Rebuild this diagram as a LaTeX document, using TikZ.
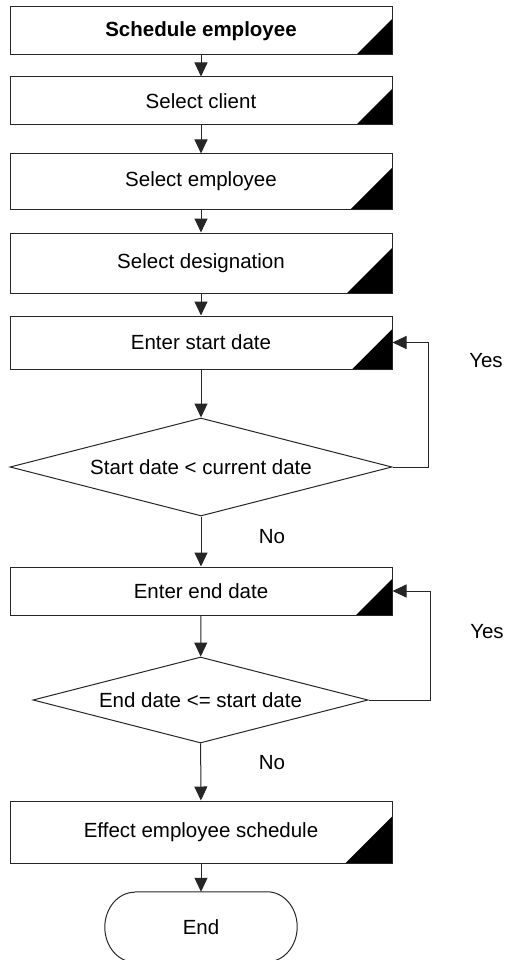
\documentclass[tikz,border=0pt]{standalone}
\usepackage{fontspec}
\setmainfont{Liberation Sans}
\usetikzlibrary{arrows.meta,shapes.geometric,calc}
\begin{document}
\begin{tikzpicture}[x=1pt,y=-1pt,
  every node/.style={font=\fontsize{20.5}{24}\selectfont, text=black},
  ln/.style={draw=black!85, line width=1pt},
  procbox/.style={ln, rectangle, minimum width=382pt, inner sep=0pt, fill=white,
    path picture={\fill[black] let \p1=(path picture bounding box.south east),
      \p2=(path picture bounding box.north east), \n1={0.75*(\y2-\y1)} in
      (\p1) -- ++(0pt,\n1) -- ++(-\n1,-\n1) -- cycle;}},
  decision/.style={ln, diamond, aspect=3.9, inner sep=0pt},
  arr/.style={ln, -{Triangle[length=14pt,width=13pt]}},
  lbl/.style={inner sep=0pt}
]
\useasboundingbox (0,0) rectangle (508,960);

\node[procbox, minimum height=48pt] (b1) at (201,31) {\bfseries Schedule employee};
\node[procbox, minimum height=48pt] (b2) at (201,101) {Select client};
\node[procbox, minimum height=55pt] (b3) at (201,181.5) {Select employee};
\node[procbox, minimum height=60pt] (b4) at (201,263) {Select designation};
\node[procbox, minimum height=53pt] (b5) at (201,342.5) {Enter start date};
\node[decision, minimum width=382pt, minimum height=98pt] (d1) at (201,467) {Start date < current date};
\node[procbox, minimum height=48pt] (b6) at (201,591) {Enter end date};
\node[decision, minimum width=335pt, minimum height=86pt] (d2) at (200.5,700) {End date <= start date};
\node[procbox, minimum height=62pt] (b7) at (201,832) {Effect employee schedule};
\node[minimum width=192pt, minimum height=70pt, inner sep=0pt] (end) at (201,927) {End};
\draw[ln] ([xshift=30pt]end.north west) -- ([xshift=-30pt]end.north east)
  arc[start angle=90, end angle=-90, x radius=30pt, y radius=35pt]
  -- ([xshift=30pt]end.south west)
  arc[start angle=270, end angle=90, x radius=30pt, y radius=35pt];

\coordinate (c1) at (428,467);
\coordinate (c2) at (428,342.5);
\coordinate (c3) at (430,700);
\coordinate (c4) at (430,591);

\draw[arr] (b1) -- (b2);
\draw[arr] (b2) -- (b3);
\draw[arr] (b3) -- (b4);
\draw[arr] (b4) -- (b5);
\draw[arr] (b5) -- (d1);
\draw[arr] (d1) -- (b6);
\draw[arr] (b6) -- (d2);
\draw[arr] (d2) -- (b7);
\draw[arr] (b7) -- (end);
\draw[arr] (d1.east) -- (c1) -- (c2) -- (b5.east);
\draw[arr] (d2.east) -- (c3) -- (c4) -- (b6.east);

\node[lbl] (yes1) at (486,361) {Yes};
\node[lbl] (yes2) at (487,632) {Yes};
\node[lbl] (no1) at (272,537) {No};
\node[lbl] (no2) at (272,763) {No};
\end{tikzpicture}
\end{document}
